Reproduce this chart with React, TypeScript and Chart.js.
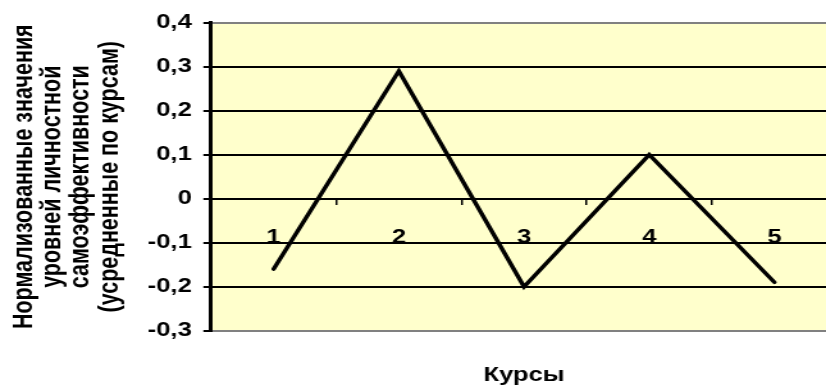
import React, { useEffect, useRef } from "react";
import { Chart, registerables } from "chart.js";

Chart.register(...registerables);

const categories: string[] = ["1", "2", "3", "4", "5"];
const values: number[] = [-0.16, 0.29, -0.2, 0.1, -0.19];
const yMin = -0.3;
const yMax = 0.4;
const yStep = 0.1;
const yTitle: string[] = [
  "Нормализованные значения",
  "уровней личностной",
  "самоэффективности",
  "(усредненные по курсам)",
];
const xTitle = "Курсы";

const STRETCH = 1.2806;
const LOGICAL_W = 660;
const H = 391;
const FONT = "'Liberation Sans', Arial, sans-serif";

const bgPlugin = {
  id: "plotBg",
  beforeDraw(chart: any) {
    const { ctx, chartArea } = chart;
    if (!chartArea) return;
    ctx.save();
    ctx.fillStyle = "#FFFFCC";
    ctx.fillRect(chartArea.left, chartArea.top, chartArea.right - chartArea.left, chartArea.bottom - chartArea.top);
    ctx.restore();
  },
};

export default function App() {
  const ref = useRef<HTMLCanvasElement | null>(null);
  useEffect(() => {
    if (!ref.current) return;
    const chart = new Chart(ref.current, {
      type: "line",
      data: {
        labels: categories,
        datasets: [
          {
            data: values,
            borderColor: "#000",
            borderWidth: 3.5,
            borderCapStyle: "round",
            borderJoinStyle: "miter",
            pointRadius: 0,
            fill: false,
            tension: 0,
          },
        ],
      },
      options: {
        animation: false,
        responsive: false,
        devicePixelRatio: 1,
        layout: { padding: { top: 22.7, right: 6.4, left: 0, bottom: 0 } },
        plugins: {
          legend: { display: false },
          tooltip: { enabled: false },
          title: {
            display: true,
            text: xTitle,
            position: "bottom",
            fullSize: false,
            color: "#000",
            font: { family: FONT, size: 20, weight: "bold", lineHeight: 1.2 },
            padding: { top: 32.5, bottom: 3.8 },
          },
        },
        scales: {
          x: {
            type: "category",
            position: { y: 0 } as any,
            offset: true,
            grid: {
              offset: true,
              drawOnChartArea: false,
              drawTicks: true,
              tickLength: 6,
              color: "#000",
              lineWidth: 1.5,
            },
            border: { display: false },
            ticks: {
              color: "#000",
              font: { family: FONT, size: 20, weight: "bold" },
              padding: 21,
              maxRotation: 0,
              autoSkip: false,
            },
          },
          y: {
            min: yMin,
            max: yMax,
            afterFit: (scale: any) => {
              scale.width = 164.8;
            },
            ticks: {
              stepSize: yStep,
              color: "#000",
              font: { family: FONT, size: 20, weight: "bold" },
              padding: 9,
              callback: (v: any) => {
                const n = Number(v);
                if (Math.abs(n) < 1e-9) return "0";
                return n.toFixed(1).replace(".", ",");
              },
            },
            grid: {
              color: (ctx: any) => {
                const v = ctx.tick ? ctx.tick.value : 0;
                if (Math.abs(v - yMax) < 1e-6 || Math.abs(v - yMin) < 1e-6) return "#808080";
                return "#000";
              },
              tickColor: "#000",
              lineWidth: 2,
              tickLength: 6,
            },
            border: { display: true, color: "#000", width: 3 },
            title: {
              display: true,
              text: yTitle,
              color: "#000",
              font: { family: FONT, size: 21.5, weight: "bold", lineHeight: 1.037 },
              padding: { top: 7.8, bottom: 0 },
            },
          },
        },
      },
      plugins: [bgPlugin],
    });
    return () => chart.destroy();
  }, []);

  return (
    <div
      style={{
        position: "fixed",
        left: 0,
        top: 0,
        width: 826,
        height: H,
        overflow: "hidden",
        background: "#fff",
      }}
    >
      <div style={{ width: LOGICAL_W, height: H, transform: `scaleX(${STRETCH})`, transformOrigin: "0 0" }}>
        <canvas ref={ref} width={LOGICAL_W} height={H} />
      </div>
    </div>
  );
}
